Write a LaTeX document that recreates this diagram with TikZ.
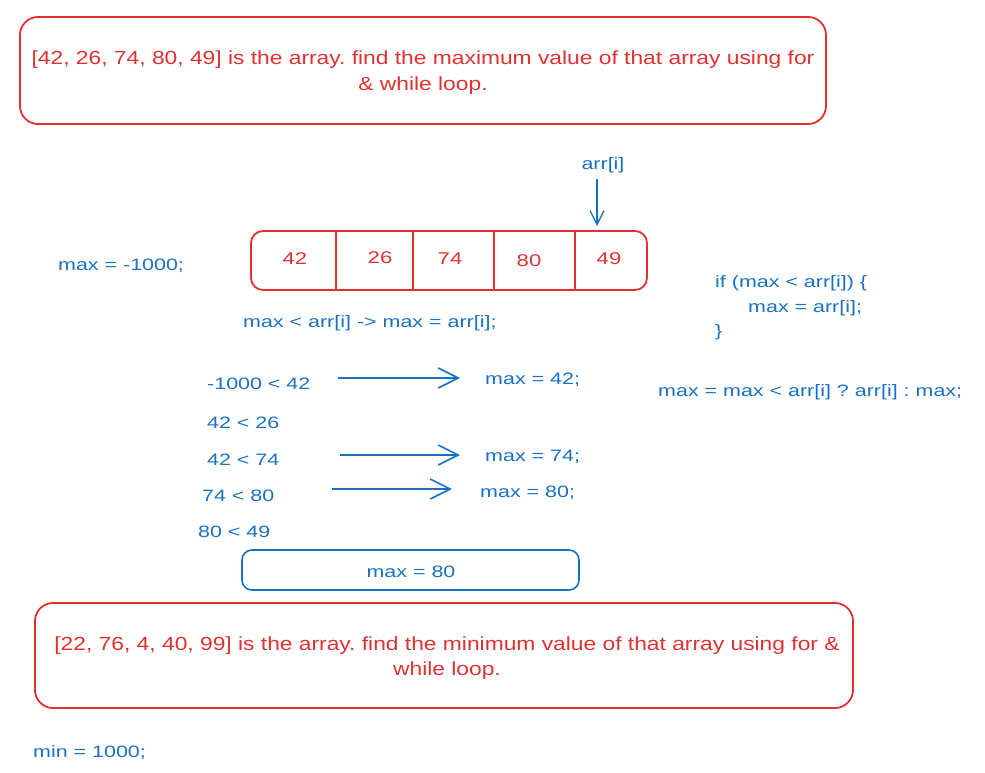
\documentclass[tikz,border=0pt]{standalone}
\usepackage{fontspec}
\setmainfont{Liberation Sans}
\newfontfamily\redf[FakeStretch=1.2]{Liberation Sans}
\newfontfamily\bluef[FakeStretch=1.3]{Liberation Sans}
\usetikzlibrary{arrows.meta}
\definecolor{exred}{HTML}{E03131}
\definecolor{exblue}{HTML}{1971C2}
\frenchspacing
\begin{document}
\begin{tikzpicture}[x=1pt,y=-1pt,
  redbox/.style={draw=exred,line width=1.8pt,rounded corners=18pt},
  bluebox/.style={draw=exblue,line width=1.6pt,rounded corners=10pt},
  redtxt/.style={text=exred,font=\redf\fontsize{19}{25}\selectfont,align=center,inner sep=0pt,yshift=-2pt},
  bluetxt/.style={text=exblue,font=\bluef\fontsize{16.5}{24}\selectfont,inner sep=0pt,yshift=-2pt},
  celltxt/.style={text=exred,font=\bluef\fontsize{17}{20}\selectfont,inner sep=0pt,yshift=-1pt},
  bigarrow/.style={draw=exblue,line width=1.6pt,-{Straight Barb[length=20pt,width=20pt,line width=1.6pt]}},
  smallarrow/.style={draw=exblue,line width=1.3pt,-{Straight Barb[length=14pt,width=14pt,line width=1.3pt]}}]
\useasboundingbox (0,0) rectangle (985,773);
% top problem
\draw[redbox] (20,17) rectangle (826,124);
\node[redtxt] (q1a) at (423,58) {[42, 26, 74, 80, 49] is the array. find the maximum value of that array using for};
\node[redtxt] (q1b) at (423,84) {\& while loop.};
% array
\draw[exred,line width=1.8pt,rounded corners=12pt] (251,231) rectangle (647,290);
\foreach \x in {336,413,494,575} \draw[exred,line width=1.8pt] (\x,231) -- (\x,290);
\node[celltxt] (c1) at (295,258) {42};
\node[celltxt] (c2) at (380,257) {26};
\node[celltxt] (c3) at (450,258) {74};
\node[celltxt] (c4) at (529,260) {80};
\node[celltxt] (c5) at (609,258) {49};
\node[bluetxt] (ai) at (603,163) {arr[i]};
\coordinate (aitip) at (597,226);
\draw[smallarrow] (ai.south -| aitip) ++(0,6) -- (aitip);
% left texts
\node[bluetxt,anchor=west] (maxinit) at (58,264) {max = -1000;};
\node[bluetxt,anchor=west] (rule) at (243,321) {max < arr[i] -> max = arr[i];};
% if block
\node[bluetxt,anchor=west] (if1) at (715,281) {if (max < arr[i]) \{};
\node[bluetxt,anchor=west] (if2) at (748,306) {max = arr[i];};
\node[bluetxt,anchor=west] (if3) at (715,330) {\}};
\node[bluetxt,anchor=west] (tern) at (658,390) {max = max < arr[i] ? arr[i] : max;};
% comparisons
\node[bluetxt,anchor=west] (k1) at (207,382) {-1000 < 42};
\node[bluetxt,anchor=west] (k2) at (207,421) {42 < 26};
\node[bluetxt,anchor=west] (k3) at (207,458) {42 < 74};
\node[bluetxt,anchor=west] (k4) at (202,494) {74 < 80};
\node[bluetxt,anchor=west] (k5) at (198,530) {80 < 49};
\node[bluetxt,anchor=west] (r1) at (485,378) {max = 42;};
\node[bluetxt,anchor=west] (r3) at (485,455) {max = 74;};
\node[bluetxt,anchor=west] (r4) at (480,491) {max = 80;};
\coordinate (a1s) at (338,378); \coordinate (a1e) at (460,378);
\coordinate (a3s) at (340,455); \coordinate (a3e) at (460,455);
\coordinate (a4s) at (332,489); \coordinate (a4e) at (452,489);
\draw[bigarrow] (a1s) -- (a1e);
\draw[bigarrow] (a3s) -- (a3e);
\draw[bigarrow] (a4s) -- (a4e);
% result
\draw[bluebox] (242,550) rectangle (579,590);
\node[bluetxt] (res) at (411,570) {max = 80};
% second problem
\draw[redbox] (35,603) rectangle (853,708);
\node[redtxt] (q2a) at (447,644) {[22, 76, 4, 40, 99] is the array. find the minimum value of that array using for \&};
\node[redtxt] (q2b) at (447,669) {while loop.};
\node[bluetxt,anchor=west] (mininit) at (33,751) {min = 1000;};
\end{tikzpicture}
\end{document}
